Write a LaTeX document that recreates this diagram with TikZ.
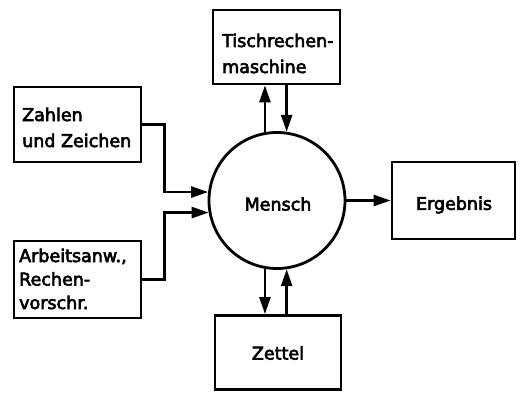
\documentclass[tikz,border=0pt]{standalone}
\usepackage{fontspec}
\setmainfont{DejaVu Sans}[AutoFakeBold=3.5]
\usetikzlibrary{arrows.meta}
\begin{document}
\begin{tikzpicture}[x=1pt,y=-1pt,
  every node/.style={font=\fontsize{17.5}{26}\selectfont\bfseries},
  box/.style={draw,line width=2.8pt,rectangle,inner sep=0pt},
  txt/.style={inner sep=0pt,align=left,anchor=base west},
  arr/.style={line width=2.5pt,-{Triangle[length=17pt,width=11pt]}}]
\useasboundingbox (0,0) rectangle (522,393);
\node[box,minimum width=127,minimum height=74] (tisch) at (276.5,47) {};
\node[txt] (tischT) at (222,73) {Tischrechen-\\maschine};
\node[box,minimum width=127,minimum height=75] (zahlen) at (77.5,124.5) {};
\node[txt] (zahlenT) at (22,147) {Zahlen\\und Zeichen};
\node[box,minimum width=127,minimum height=77] (arbeit) at (77.5,279.5) {};
\node[txt,font=\fontsize{17.5}{23.5}\selectfont\bfseries] (arbeitT) at (19,309) {Arbeitsanw.,\\Rechen-\\vorschr.};
\node[draw,circle,line width=2.8pt,minimum size=136,inner sep=0pt] (mensch) at (277,200.5) {};
\node (menschT) at (278,204) {Mensch};
\node[box,minimum width=123,minimum height=77] (erg) at (453.5,200.5) {};
\node (ergT) at (454,205) {Ergebnis};
\node[box,minimum width=126,minimum height=74] (zettel) at (278,352.5) {};
\node (zettelT) at (278,353) {Zettel};
\draw[arr] (zahlen.east) -- ++(22,0) |- (mensch.173);
\draw[arr] (arbeit.east) -- ++(22,0) |- (mensch.190);
\draw[arr] (mensch.100) -- (mensch.100 |- tisch.south);
\draw[arr] (tisch.south -| mensch.82) -- (mensch.82);
\draw[arr] (mensch.260) -- (mensch.260 |- zettel.north);
\draw[arr] (zettel.north -| mensch.278) -- (mensch.278);
\draw[arr] (mensch.east) -- (erg.west);
\end{tikzpicture}
\end{document}
